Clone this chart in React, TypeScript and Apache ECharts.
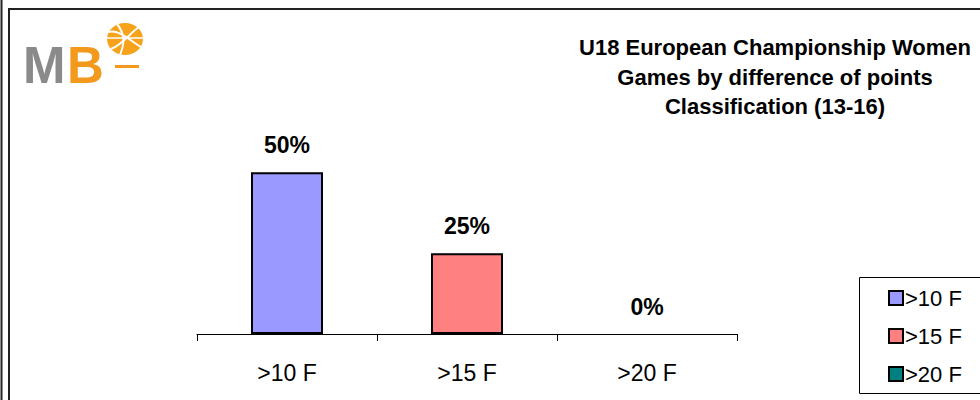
import React, { useEffect, useRef } from "react";
import * as echarts from "echarts";

const categories = [">10 F", ">15 F", ">20 F"];
const values = [50, 25, 0];
const colors = ["#9999FF", "#FF8080", "#008080"];
const titleLines = [
  "U18 European Championship Women",
  "Games by difference of points",
  "Classification (13-16)",
];

export default function App() {
  const ref = useRef<HTMLDivElement>(null);
  useEffect(() => {
    document.body.style.margin = "0";
    const chart = echarts.init(ref.current!, null, { renderer: "svg" });
    const series = categories.map((name, i) => ({
      name,
      type: "bar",
      stack: "all",
      barWidth: 72,
      data: categories.map((_, j) =>
        j === i
          ? { value: values[i], itemStyle: values[i] === 0 ? { borderWidth: 0 } : {} }
          : "-"
      ),
      itemStyle: { color: colors[i], borderColor: "#000", borderWidth: 2 },
      label: {
        show: true,
        position: "top",
        distance: 16,
        formatter: "{c}%",
        fontFamily: "Liberation Sans, Arial",
        fontWeight: "bold",
        fontSize: 23,
        color: "#000",
      },
    }));
    chart.setOption({
      animation: false,
      backgroundColor: "#fff",
      title: {
        text: titleLines.join("\n"),
        left: 770,
        top: 28,
        textAlign: "center",
        textStyle: {
          fontFamily: "Liberation Sans, Arial",
          fontWeight: "bold",
          fontSize: 22,
          lineHeight: 29.5,
          color: "#000",
        },
      },
      grid: { left: 197, right: 243, top: 140, bottom: 66 },
      xAxis: {
        type: "category",
        data: categories,
        axisLine: { lineStyle: { color: "#000", width: 1 } },
        axisTick: { show: true, length: 7, lineStyle: { color: "#000" } },
        axisLabel: {
          margin: 27,
          fontFamily: "Liberation Sans, Arial",
          fontSize: 23,
          color: "#000",
        },
      },
      yAxis: { type: "value", min: 0, max: 60, show: false },
      legend: {
        orient: "vertical",
        left: 883,
        top: 282,
        itemWidth: 14,
        itemHeight: 14,
        itemGap: 16,
        icon: "rect",
        data: categories,
        textStyle: {
          fontFamily: "Liberation Sans, Arial",
          fontSize: 22,
          color: "#000",
          padding: [0, 0, 0, -3],
        },
      },
      graphic: [
        { type: "line", shape: { x1: 1.5, y1: 0, x2: 1.5, y2: 400 }, style: { stroke: "#222", lineWidth: 2 } },
        { type: "rect", shape: { x: 9, y: 9, width: 1000, height: 500 }, style: { fill: "none", stroke: "#222", lineWidth: 2 } },
        { type: "rect", shape: { x: 859.5, y: 277.5, width: 200, height: 116 }, style: { fill: "none", stroke: "#000", lineWidth: 1 } },
        { type: "text", x: 23, y: 40, style: { text: "M", fontFamily: "Liberation Sans, Arial", fontWeight: "bold", fontSize: 51, fill: "#8a8a8a" } },
        { type: "text", x: 67, y: 40, style: { text: "B", fontFamily: "Liberation Sans, Arial", fontWeight: "bold", fontSize: 51, fill: "#F39A1E" } },
        { type: "ellipse", shape: { cx: 125, cy: 39, rx: 18, ry: 16 }, style: { fill: "#F7A21B" } },
        { type: "bezierCurve", shape: { x1: 108, y1: 32, x2: 141, y2: 47, cpx1: 120, cpy1: 29, cpx2: 130, cpy2: 41 }, style: { stroke: "#fff", lineWidth: 2, fill: "none" } },
        { type: "bezierCurve", shape: { x1: 111, y1: 49, x2: 139, y2: 27, cpx1: 122, cpy1: 45, cpx2: 130, cpy2: 33 }, style: { stroke: "#fff", lineWidth: 2, fill: "none" } },
        { type: "bezierCurve", shape: { x1: 117, y1: 24, x2: 120, y2: 55, cpx1: 126, cpy1: 35, cpx2: 124, cpy2: 45 }, style: { stroke: "#fff", lineWidth: 2, fill: "none" } },
        { type: "line", shape: { x1: 107, y1: 38, x2: 143, y2: 38 }, style: { stroke: "#fff", lineWidth: 1.5 } },
        { type: "rect", shape: { x: 115, y: 65, width: 24, height: 3 }, style: { fill: "#F39A1E" } },
      ],
      series,
    });
    return () => chart.dispose();
  }, []);
  return <div ref={ref} style={{ width: 980, height: 400 }} />;
}
